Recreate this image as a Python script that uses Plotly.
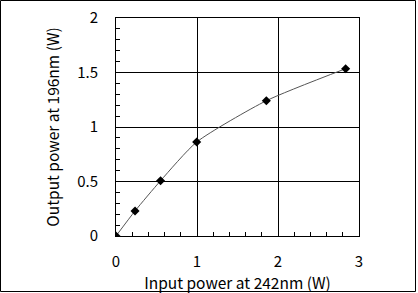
import plotly.graph_objects as go

input_power = [0.0, 0.235, 0.55, 0.996, 1.856, 2.835]
output_power = [0.0, 0.23, 0.507, 0.862, 1.241, 1.535]

x_title = "Input power at 242nm (W)"
y_title = "Output power at 196nm (W)"

W, H = 418, 293
L, R, T, B = 116, 359, 18, 236
pw, ph = R - L, B - T

tick_font = dict(family="Noto Sans CJK JP, DejaVu Sans, sans-serif", size=15, color="black")
title_font = dict(family="Noto Sans CJK JP, DejaVu Sans, sans-serif", size=15.5, color="black")

fig = go.Figure()
fig.add_trace(go.Scatter(
    x=input_power, y=output_power, mode="lines+markers",
    line=dict(color="#555555", width=1, shape="spline", smoothing=0.6),
    marker=dict(symbol="diamond", size=7, color="black"),
    showlegend=False,
))

axis_common = dict(
    showline=True, linecolor="black", linewidth=1, mirror=True,
    showgrid=True, gridcolor="black", gridwidth=1,
    zeroline=False, ticks="inside", ticklen=4, tickcolor="black",
    tickfont=tick_font, automargin=False,
)

fig.update_xaxes(range=[0, 3], dtick=1, tick0=0, ticklabelstandoff=12,
                 minor=dict(ticks="inside", dtick=0.2, ticklen=4, tickcolor="black", showgrid=False),
                 title=dict(text=x_title, font=title_font, standoff=3),
                 **axis_common)
fig.update_yaxes(range=[0, 2], dtick=0.5, tick0=0, ticklabelstandoff=14,
                 minor=dict(ticks="inside", dtick=0.1, ticklen=4, tickcolor="black", showgrid=False),
                 title=dict(text=y_title, font=title_font, standoff=13),
                 **axis_common)

fig.update_layout(
    width=W, height=H,
    margin=dict(l=L, r=W - R, t=T, b=H - B, autoexpand=False),
    paper_bgcolor="white", plot_bgcolor="white",
    shapes=[dict(type="rect", xref="paper", yref="paper",
                 x0=(0.5 - L) / pw, x1=(415.5 - L) / pw,
                 y0=(B - 291.5) / ph, y1=(B - 0.5) / ph,
                 line=dict(color="black", width=1), layer="below")],
)

fig.write_html("out.html")
